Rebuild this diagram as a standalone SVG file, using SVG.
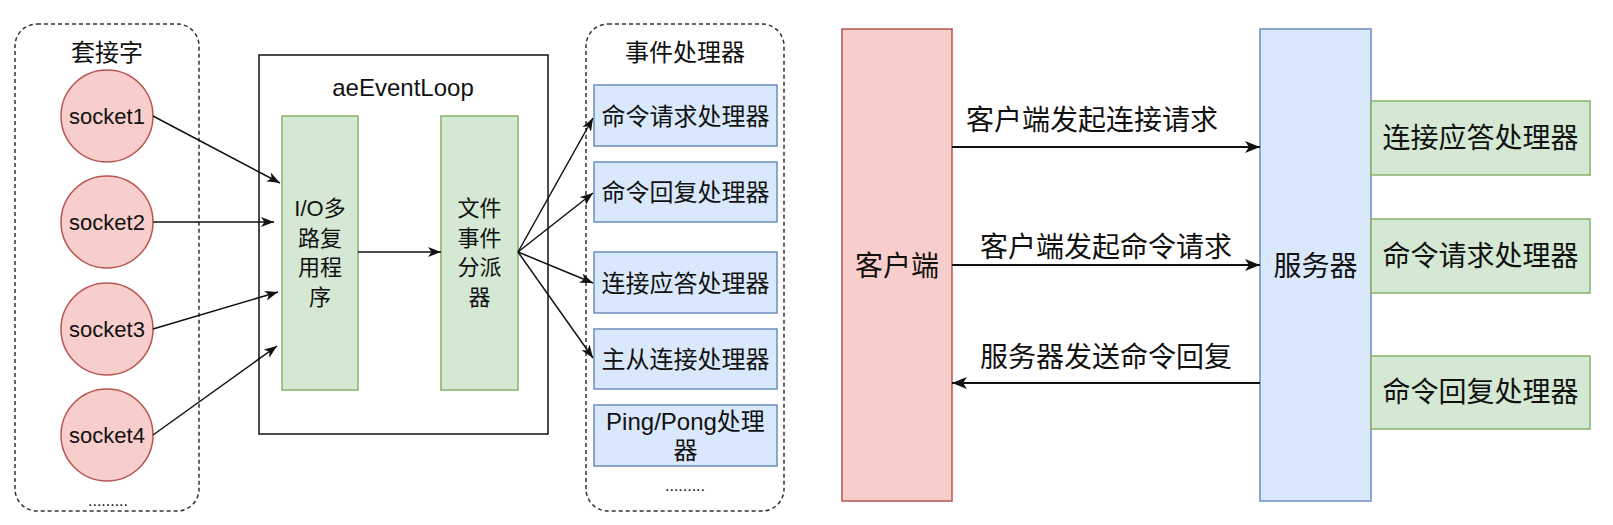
<svg xmlns="http://www.w3.org/2000/svg" width="1613" height="525" viewBox="0 0 1613 525">
<style>
text{font-family:"Liberation Sans","Noto Sans CJK SC",Arial,sans-serif;fill:#111;text-anchor:middle;dominant-baseline:central}
.dash{fill:none;stroke:#333;stroke-width:1.5;stroke-dasharray:4 3}
.red{fill:#f8cecc;stroke:#b85450;stroke-width:1.5}
.blue{fill:#dae8fc;stroke:#6c8ebf;stroke-width:1.5}
.green{fill:#d5e8d4;stroke:#82b366;stroke-width:1.5}
.loop{fill:#fff;stroke:#111;stroke-width:1.5}
.edge{fill:none;stroke:#111;stroke-width:1.5}
.edge2{fill:none;stroke:#111;stroke-width:2}
.f22{font-size:22px}.f24{font-size:24px}.f28{font-size:28px}.f16{font-size:16px}
</style>
<defs>
<marker id="arr" markerUnits="userSpaceOnUse" markerWidth="14" markerHeight="12" refX="13" refY="5" orient="auto">
<path d="M0,0 L13,5 L0,10 L3.5,5 Z" fill="#111"/>
</marker>
<marker id="arr2" markerUnits="userSpaceOnUse" markerWidth="16" markerHeight="14" refX="15" refY="6" orient="auto">
<path d="M0,0 L15,6 L0,12 L4,6 Z" fill="#111"/>
</marker>
</defs>

<g id="sockets-group">
<rect class="dash" x="15" y="24" width="184" height="487" rx="22"/>
<text class="f24" x="107" y="52">套接字</text>
<text class="f16" x="108" y="500">.........</text>
</g>
<g id="socket1"><circle class="red" cx="107" cy="116" r="46"/><text class="f22" x="107" y="116">socket1</text></g>
<g id="socket2"><circle class="red" cx="107" cy="222" r="46"/><text class="f22" x="107" y="222">socket2</text></g>
<g id="socket3"><circle class="red" cx="107" cy="329" r="46"/><text class="f22" x="107" y="329">socket3</text></g>
<g id="socket4"><circle class="red" cx="107" cy="435" r="46"/><text class="f22" x="107" y="435">socket4</text></g>

<g id="aeEventLoop">
<rect class="loop" x="259" y="55" width="289" height="379"/>
<text class="f24" x="403" y="87">aeEventLoop</text>
</g>
<g id="io-multiplexer">
<rect class="green" x="282" y="116" width="76" height="274"/>
<text class="f22" x="320" y="208">I/O多</text>
<text class="f22" x="320" y="238">路复</text>
<text class="f22" x="320" y="267">用程</text>
<text class="f22" x="320" y="297">序</text>
</g>
<g id="dispatcher">
<rect class="green" x="441" y="116" width="77" height="274"/>
<text class="f22" x="479.5" y="208">文件</text>
<text class="f22" x="479.5" y="238">事件</text>
<text class="f22" x="479.5" y="267">分派</text>
<text class="f22" x="479.5" y="297">器</text>
</g>

<g id="handlers-group">
<rect class="dash" x="586" y="24" width="198" height="487" rx="22"/>
<text class="f24" x="685" y="52">事件处理器</text>
<text class="f16" x="685" y="485">.........</text>
</g>
<g id="h-cmd-req"><rect class="blue" x="594" y="85" width="183" height="61"/><text class="f24" x="685.5" y="116">命令请求处理器</text></g>
<g id="h-cmd-reply"><rect class="blue" x="594" y="162" width="183" height="60"/><text class="f24" x="685.5" y="192">命令回复处理器</text></g>
<g id="h-accept"><rect class="blue" x="594" y="252" width="183" height="61"/><text class="f24" x="685.5" y="283">连接应答处理器</text></g>
<g id="h-repl"><rect class="blue" x="594" y="329" width="183" height="60"/><text class="f24" x="685.5" y="359">主从连接处理器</text></g>
<g id="h-ping"><rect class="blue" x="594" y="405" width="183" height="61"/><text class="f24" x="685.5" y="421">Ping/Pong处理</text><text class="f24" x="685.5" y="450">器</text></g>

<g id="client"><rect class="red" x="842" y="29" width="110" height="472"/><text class="f28" x="897" y="266">客户端</text></g>
<g id="server"><rect class="blue" x="1260" y="29" width="111" height="472"/><text class="f28" x="1315.5" y="266">服务器</text></g>
<g id="s-accept"><rect class="green" x="1371" y="101" width="219" height="74"/><text class="f28" x="1480.5" y="138">连接应答处理器</text></g>
<g id="s-cmd-req"><rect class="green" x="1371" y="219" width="219" height="74"/><text class="f28" x="1480.5" y="256">命令请求处理器</text></g>
<g id="s-cmd-reply"><rect class="green" x="1371" y="356" width="219" height="73"/><text class="f28" x="1480.5" y="392.5">命令回复处理器</text></g>

<g id="connectors">
<line class="edge" x1="153" y1="116" x2="280" y2="183" marker-end="url(#arr)"/>
<line class="edge" x1="153" y1="222" x2="274" y2="222" marker-end="url(#arr)"/>
<line class="edge" x1="153" y1="329" x2="278" y2="292" marker-end="url(#arr)"/>
<line class="edge" x1="153" y1="435" x2="277" y2="346" marker-end="url(#arr)"/>
<line class="edge" x1="358" y1="252" x2="441" y2="252" marker-end="url(#arr)"/>
<line class="edge" x1="518" y1="252" x2="593" y2="118" marker-end="url(#arr)"/>
<line class="edge" x1="518" y1="252" x2="593" y2="193" marker-end="url(#arr)"/>
<line class="edge" x1="518" y1="252" x2="593" y2="283" marker-end="url(#arr)"/>
<line class="edge" x1="518" y1="252" x2="593" y2="358" marker-end="url(#arr)"/>
<line class="edge2" x1="952" y1="147" x2="1260" y2="147" marker-end="url(#arr2)"/>
<line class="edge2" x1="952" y1="265" x2="1260" y2="265" marker-end="url(#arr2)"/>
<line class="edge2" x1="1260" y1="383" x2="952" y2="383" marker-end="url(#arr2)"/>
<text class="f28" x="1092" y="120">客户端发起连接请求</text>
<text class="f28" x="1106" y="247">客户端发起命令请求</text>
<text class="f28" x="1106" y="357">服务器发送命令回复</text>
</g>
</svg>
